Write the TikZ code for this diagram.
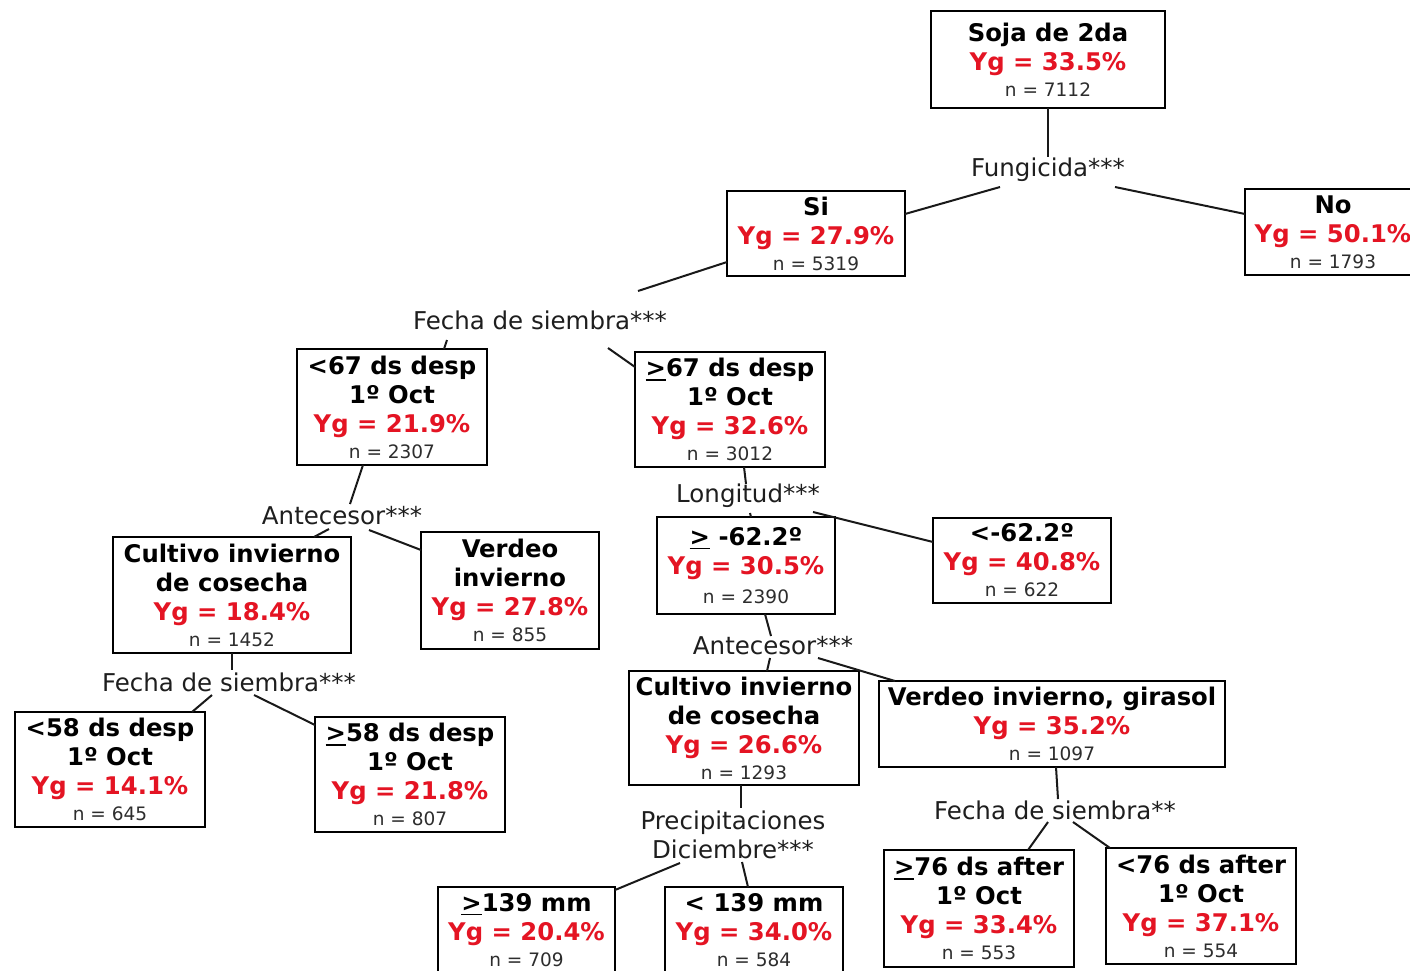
\documentclass[tikz,border=0pt]{standalone}
\usepackage{fontspec}
\setmainfont{DejaVu Sans}
\usetikzlibrary{calc}
\definecolor{ygred}{RGB}{228,20,35}
\definecolor{ntext}{RGB}{45,45,45}
\definecolor{lbltext}{RGB}{30,30,30}
% text lines inside the boxes
\newcommand\hd[1]{{\fontsize{24.3}{29}\selectfont\bfseries #1}}
\newcommand\yg[1]{{\fontsize{24.3}{29}\selectfont\bfseries\color{ygred}Yg = #1\%}}
\newcommand\nn[1]{{\fontsize{18.5}{26}\selectfont\color{ntext}n = #1}}
% ">" with a bar underneath
\newcommand\geu{\leavevmode\setbox0\hbox{>}\rlap{\rule[-4pt]{\wd0}{1.8pt}}\box0\relax}
% connector between two nodes, ends given as offsets from the node centres
\newcommand\conn[4]{\draw[edge] ([shift={#2}]#1.center) -- ([shift={#4}]#3.center);}
\begin{document}
\begin{tikzpicture}[x=1pt,y=-1pt,
  box/.style={draw=black, line width=2pt, inner sep=0pt, align=center,
    font=\fontsize{24.3}{29}\selectfont},
  split/.style={inner sep=0pt, align=center, text=lbltext,
    font=\fontsize{24.5}{29}\selectfont},
  edge/.style={line width=2pt, draw=black!90}]
\path[use as bounding box, fill=white] (0,0) rectangle (1410,970);

% boxes
\node[box, minimum width=234pt, minimum height=97pt] (root) at (1048,59.5)
  {\hd{Soja de 2da}\\\yg{33.5}\\[-3pt]\nn{7112}};
\node[box, minimum width=178pt, minimum height=85pt] (si) at (816,233.5)
  {\hd{Si}\\\yg{27.9}\\[-3pt]\nn{5319}};
\node[box, minimum width=176pt, minimum height=86pt] (no) at (1333,232)
  {\hd{No}\\\yg{50.1}\\[-3pt]\nn{1793}};
\node[box, minimum width=190pt, minimum height=116pt] (lt67) at (392,407)
  {\hd{<67 ds desp}\\\hd{1º Oct}\\\yg{21.9}\\[-3pt]\nn{2307}};
\node[box, minimum width=190pt, minimum height=115pt] (ge67) at (730,409.5)
  {\hd{\geu67 ds desp}\\\hd{1º Oct}\\\yg{32.6}\\[-3pt]\nn{3012}};
\node[box, minimum width=238pt, minimum height=116pt] (cultA) at (232,595)
  {\hd{Cultivo invierno}\\\hd{de cosecha}\\\yg{18.4}\\[-3pt]\nn{1452}};
\node[box, minimum width=178pt, minimum height=117pt] (verdA) at (510,590.5)
  {\hd{Verdeo}\\\hd{invierno}\\\yg{27.8}\\[-3pt]\nn{855}};
\node[box, minimum width=178pt, minimum height=97pt] (ge62) at (746,565.5)
  {\hd{\geu{} -62.2º}\\\yg{30.5}\\[0pt]\nn{2390}};
\node[box, minimum width=178pt, minimum height=85pt] (lt62) at (1022,560.5)
  {\hd{<-62.2º}\\\yg{40.8}\\[-3pt]\nn{622}};
\node[box, minimum width=230pt, minimum height=114pt] (cultB) at (744,728)
  {\hd{Cultivo invierno}\\\hd{de cosecha}\\\yg{26.6}\\[-3pt]\nn{1293}};
\node[box, minimum width=346pt, minimum height=86pt] (verdB) at (1052,724)
  {\hd{Verdeo invierno, girasol}\\\yg{35.2}\\[-3pt]\nn{1097}};
\node[box, minimum width=190pt, minimum height=115pt] (lt58) at (110,769.5)
  {\hd{<58 ds desp}\\\hd{1º Oct}\\\yg{14.1}\\[-3pt]\nn{645}};
\node[box, minimum width=190pt, minimum height=115pt] (ge58) at (410,774.5)
  {\hd{\geu58 ds desp}\\\hd{1º Oct}\\\yg{21.8}\\[-3pt]\nn{807}};
\node[box, minimum width=177pt, minimum height=86pt] (ge139) at (526.5,930)
  {\hd{\geu139 mm}\\\yg{20.4}\\[-3pt]\nn{709}};
\node[box, minimum width=178pt, minimum height=86pt] (lt139) at (754,930)
  {\hd{< 139 mm}\\\yg{34.0}\\[-3pt]\nn{584}};
\node[box, minimum width=190pt, minimum height=117pt] (ge76) at (979,908.5)
  {\hd{\geu76 ds after}\\\hd{1º Oct}\\\yg{33.4}\\[-3pt]\nn{553}};
\node[box, minimum width=190pt, minimum height=116pt] (lt76) at (1201,906)
  {\hd{<76 ds after}\\\hd{1º Oct}\\\yg{37.1}\\[-3pt]\nn{554}};

% split variables
\node[split] (fung) at (1048,170) {Fungicida***};
\node[split] (fA) at (540,320) {Fecha de siembra***};
\node[split] (antA) at (342,516) {Antecesor***};
\node[split] (lon) at (748,496) {Longitud***};
\node[split] (antB) at (773,646) {Antecesor***};
\node[split] (fB) at (229,682) {Fecha de siembra***};
\node[split] (prec) at (733,834.5) {Precipitaciones\\Diciembre***};
\node[split] (fC) at (1055,810) {Fecha de siembra**};

% connectors
\conn{root}{(0,48.5)}{fung}{(0,-13)}
\conn{fung}{(-48,17)}{si}{(89,-19.5)}
\conn{fung}{(67,17)}{no}{(-88,-18)}
\conn{si}{(-89,28.5)}{fA}{(98,-29)}
\conn{fA}{(-93,20)}{lt67}{(52,-58)}
\conn{fA}{(68,28)}{ge67}{(-95,-42.5)}
\conn{lt67}{(-29,58)}{antA}{(8,-12)}
\conn{antA}{(-13,13)}{cultA}{(82,-58)}
\conn{antA}{(27,14)}{verdA}{(-89,-40.5)}
\conn{cultA}{(0,58)}{fB}{(3,-12)}
\conn{fB}{(-17,13)}{lt58}{(82,-57.5)}
\conn{fB}{(25,13)}{ge58}{(-95,-49.5)}
\conn{ge67}{(14,57.5)}{lon}{(-2,-12)}
\conn{lon}{(2,17)}{ge62}{(5,-48.5)}
\conn{lon}{(65,16)}{lt62}{(-89,-18.5)}
\conn{ge62}{(19,48.5)}{antB}{(-2,-10)}
\conn{antB}{(-3,12)}{cultB}{(23,-57)}
\conn{antB}{(45,12)}{verdB}{(-157,-43)}
\conn{cultB}{(-3,57)}{prec}{(8,-27)}
\conn{prec}{(-53,28.5)}{ge139}{(88.5,-40)}
\conn{prec}{(9,27.5)}{lt139}{(-6,-43)}
\conn{verdB}{(4,43)}{fC}{(3,-11)}
\conn{fC}{(-7,12)}{ge76}{(49,-58.5)}
\conn{fC}{(18,12)}{lt76}{(-91,-58)}
\end{tikzpicture}
\end{document}
